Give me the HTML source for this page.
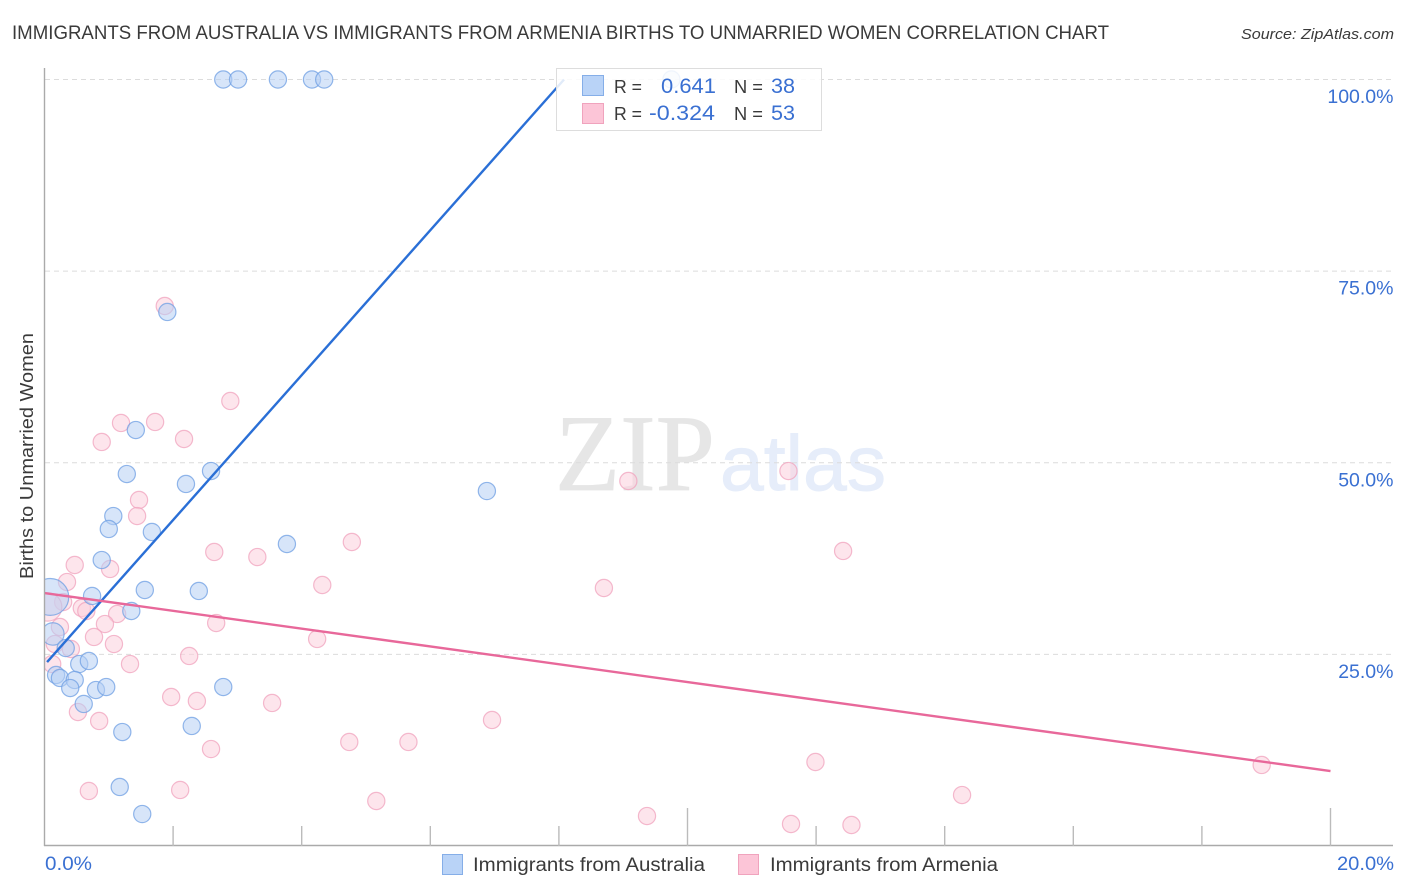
<!DOCTYPE html>
<html>
<head>
<meta charset="utf-8">
<title>Immigrants from Australia vs Immigrants from Armenia Births to Unmarried Women Correlation Chart</title>
<style>
html,body{margin:0;padding:0;background:#fff;width:1406px;height:892px;overflow:hidden}
svg{display:block}
text{font-family:"Liberation Sans",sans-serif}
</style>
</head>
<body>
<svg id="chart" width="1406" height="892" viewBox="0 0 1406 892" xmlns="http://www.w3.org/2000/svg">
  <defs>
    <clipPath id="plot-clip"><rect x="45" y="60" width="1350" height="786"/></clipPath>
  </defs>
  <text x="12" y="39" font-size="19" fill="#3a3a3a" textLength="1097" lengthAdjust="spacingAndGlyphs">IMMIGRANTS FROM AUSTRALIA VS IMMIGRANTS FROM ARMENIA BIRTHS TO UNMARRIED WOMEN CORRELATION CHART</text>
  <text x="1241" y="39" font-size="15" font-style="italic" fill="#3a3a3a" textLength="153" lengthAdjust="spacingAndGlyphs">Source: ZipAtlas.com</text>

  <g>
    <text x="555" y="490" style="font-family:'Liberation Serif',serif" font-size="109" fill="#e6e6e6" stroke="#e6e6e6" stroke-width="0.8" textLength="160" lengthAdjust="spacingAndGlyphs">ZIP</text>
    <text x="720" y="490" font-size="78" fill="#e6edfa" stroke="#e6edfa" stroke-width="0.9" textLength="166" lengthAdjust="spacingAndGlyphs">atlas</text>
  </g>

  <g id="grid"></g>
  <g id="points" clip-path="url(#plot-clip)"></g>
  <g id="lines"></g>
  <g id="axes"></g>

  <text transform="translate(33,579) rotate(-90)" font-size="18.5" fill="#3a3a3a" textLength="246" lengthAdjust="spacingAndGlyphs">Births to Unmarried Women</text>

  <g>
    <rect x="556.5" y="68.5" width="265" height="62" fill="#fff" fill-opacity="0.86" stroke="#ddd" stroke-width="1"/>
    <rect x="582.5" y="75.5" width="21" height="20" fill="#b9d3f7" stroke="#85aee8" stroke-width="1"/>
    <rect x="582.5" y="103.5" width="21" height="20" fill="#fcc5d7" stroke="#f0a3bd" stroke-width="1"/>
    <text x="614" y="93" font-size="18.5" fill="#3a3a3a" textLength="28" lengthAdjust="spacingAndGlyphs">R =</text>
    <text x="661" y="93" font-size="21" fill="#3a70d2" textLength="55" lengthAdjust="spacingAndGlyphs">0.641</text>
    <text x="734" y="93" font-size="18.5" fill="#3a3a3a" textLength="29" lengthAdjust="spacingAndGlyphs">N =</text>
    <text x="771" y="93" font-size="21" fill="#3a70d2" textLength="24" lengthAdjust="spacingAndGlyphs">38</text>
    <text x="614" y="120" font-size="18.5" fill="#3a3a3a" textLength="28" lengthAdjust="spacingAndGlyphs">R =</text>
    <text x="649" y="120" font-size="21" fill="#3a70d2" textLength="66" lengthAdjust="spacingAndGlyphs">-0.324</text>
    <text x="734" y="120" font-size="18.5" fill="#3a3a3a" textLength="29" lengthAdjust="spacingAndGlyphs">N =</text>
    <text x="771" y="120" font-size="21" fill="#3a70d2" textLength="24" lengthAdjust="spacingAndGlyphs">53</text>
  </g>

  <g>
    <rect x="442.5" y="854.5" width="20" height="20" fill="#b9d3f7" stroke="#85aee8" stroke-width="1"/>
    <text x="473" y="871" font-size="19" fill="#3a3a3a" textLength="232" lengthAdjust="spacingAndGlyphs">Immigrants from Australia</text>
    <rect x="738.5" y="854.5" width="20" height="20" fill="#fcc5d7" stroke="#f0a3bd" stroke-width="1"/>
    <text x="770" y="871" font-size="19" fill="#3a3a3a" textLength="228" lengthAdjust="spacingAndGlyphs">Immigrants from Armenia</text>
  </g>
</svg>
<script>
const blueX = [2.78,3.01,3.63,4.16,4.35,9.75,1.91,1.42,1.28,2.59,2.20,6.88,1.07,1.00,1.67,3.77,0.89,1.56,2.40,0.74,1.35,0.09,0.13,0.33,0.54,0.69,0.18,0.24,0.47,0.40,0.80,0.96,2.78,0.61,2.29,1.21,1.17,1.52];
const blueY = [100,100,100,100,100,100,69.67,54.27,48.53,48.92,47.23,46.31,43.05,41.36,40.97,39.40,37.31,33.40,33.27,32.62,30.66,32.49,27.66,25.83,23.74,24.14,22.31,21.92,21.66,20.61,20.35,20.74,20.74,18.53,15.66,14.87,7.70,4.17];
const blueWeight = [1,1,1,1,1,1,1,1,1,1,1,1,1,1,1,1,1,1,1,1,1,4.6,1.7,1,1,1,1,1,1,1,1,1,1,1,1,1,1,1];

const pinkX = [0.47,1.02,0.35,2.64,3.31,0.29,0.05,0.58,0.65,1.13,0.94,2.67,0.24,0.77,0.16,0.41,1.08,2.25,0.12,1.33,1.97,2.37,3.54,0.52,0.85,2.59,0.69,2.11,1.87,2.89,1.19,1.72,0.89,2.17,1.47,1.44,9.08,11.57,4.78,12.42,8.70,4.32,4.24,6.96,4.74,5.66,11.99,18.93,14.27,5.16,9.37,11.61,12.55];
const pinkY = [36.66,36.14,34.44,38.36,37.70,31.83,31.18,31.05,30.66,30.27,28.96,29.09,28.57,27.27,26.35,25.70,26.35,24.79,23.74,23.74,19.44,18.92,18.66,17.48,16.31,12.65,7.18,7.31,70.45,58.06,55.19,55.32,52.71,53.10,45.14,43.05,47.62,48.92,39.66,38.49,33.66,34.05,27.01,16.44,13.57,13.57,10.96,10.57,6.65,5.87,3.91,2.87,2.74];
const pinkWeight = [1,1,1,1,1,1,2.7,1,1,1,1,1,1,1,1,1,1,1,1,1,1,1,1,1,1,1,1,1,1,1,1,1,1,1,1,1,1,1,1,1,1,1,1,1,1,1,1,1,1,1,1,1,1];

const blueTrendX = [0.04,8.08];
const blueTrendY = [24.0,100];
const pinkTrendX = [0,20];
const pinkTrendY = [33.0,9.78];

const xTicks = [0,2,4,6,8,10,12,14,16,18,20];
const xMajorTicks = [10,20];
const xTickLabels = ["0.0%","20.0%"];
const yTicks = [25,50,75,100];
const yTickLabels = ["25.0%","50.0%","75.0%","100.0%"];

const SVGNS = "http://www.w3.org/2000/svg";
function xScale(v){ return 44.5 + v * 64.3; }
function yScale(v){ return 846 - v * 7.665; }
function mk(parent, tag, attrs){
  const el = document.createElementNS(SVGNS, tag);
  for (const k in attrs) el.setAttribute(k, attrs[k]);
  parent.appendChild(el);
  return el;
}

const grid = document.getElementById('grid');
yTicks.forEach(function(t){
  const l = mk(grid, 'line', {x1:45, x2:1393, y1:yScale(t), y2:yScale(t), stroke:'#dcdcdc', 'stroke-width':1, 'stroke-dasharray':'5 4'});
  
  
});

const pts = document.getElementById('points');
function drawSeries(xs, ys, ws, fill, stroke, name){
  xs.forEach(function(x, i){
    const c = mk(pts, 'circle', {cx:xScale(x), cy:yScale(ys[i]), r:8.6*Math.sqrt(ws[i]), fill:fill, 'fill-opacity':0.55, stroke:stroke, 'stroke-opacity':0.75, 'stroke-width':1.2});
    
    
  });
}
drawSeries(pinkX, pinkY, pinkWeight, '#fbcfdd', '#f0a3bd', 'armenia-point');
drawSeries(blueX, blueY, blueWeight, '#b6d0f4', '#6f9fe3', 'australia-point');

const lines = document.getElementById('lines');
const bt = mk(lines, 'line', {x1:xScale(blueTrendX[0]), y1:yScale(blueTrendY[0]), x2:xScale(blueTrendX[1]), y2:yScale(blueTrendY[1]), stroke:'#2a6fd6', 'stroke-width':2.4});


const pt = mk(lines, 'line', {x1:xScale(pinkTrendX[0]), y1:yScale(pinkTrendY[0]), x2:xScale(pinkTrendX[1]), y2:yScale(pinkTrendY[1]), stroke:'#e8689a', 'stroke-width':2.4});



const axes = document.getElementById('axes');
const yAxis = mk(axes, 'line', {x1:44.5, x2:44.5, y1:68, y2:846, stroke:'#aaa', 'stroke-width':1.4});


const xAxis = mk(axes, 'line', {x1:44, x2:1393, y1:845.5, y2:845.5, stroke:'#aaa', 'stroke-width':1.4});



xTicks.slice(1).forEach(function(t){
  const major = xMajorTicks.indexOf(t) >= 0;
  const l = mk(axes, 'line', {x1:xScale(t), x2:xScale(t), y1:major ? 808 : 826, y2:846, stroke:'#bbb', 'stroke-width':1.4});
  
  
});

yTicks.forEach(function(t, i){
  const el = mk(axes, 'text', {x:1393.5, y:yScale(t)+23.5, 'text-anchor':'end', 'font-size':19.5, fill:'#3a70d2'});
  el.textContent = yTickLabels[i];
  
  
});

const x0 = mk(axes, 'text', {x:45, y:870, 'font-size':19.5, fill:'#3a70d2', textLength:47, lengthAdjust:'spacingAndGlyphs'});
x0.textContent = xTickLabels[0];


const x1 = mk(axes, 'text', {x:1337, y:870, 'font-size':19.5, fill:'#3a70d2', textLength:57, lengthAdjust:'spacingAndGlyphs'});
x1.textContent = xTickLabels[1];


</script>
</body>
</html>
